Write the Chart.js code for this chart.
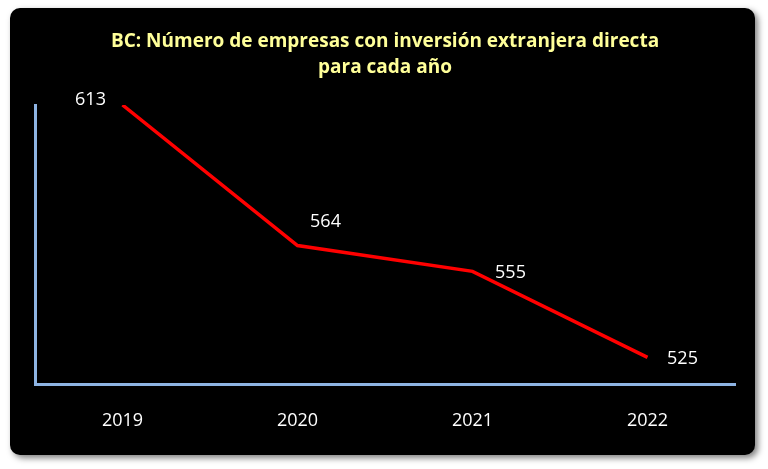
<!DOCTYPE html>
<html>
<head>
<meta charset="utf-8">
<script src="https://cdn.jsdelivr.net/npm/chart.js@4"></script>
<style>
  html, body { margin: 0; padding: 0; background: #fff; }
  #wrap { width: 768px; height: 469px; }
</style>
</head>
<body>
<div id="wrap"><canvas id="chart"></canvas></div>
<script>
const years = ["2019", "2020", "2021", "2022"];
const empresas = [613, 564, 555, 525];
const titleLines = ["BC: Número de empresas con inversión extranjera directa", "para cada año"];
// label offsets relative to each point (dx, dy)
const labelOffsets = [[-32, -5], [28, -24], [38, 1], [35, 1]];

const backgroundPlugin = {
  id: "bg",
  beforeDraw(chart) {
    const ctx = chart.ctx;
    ctx.save();
    ctx.fillStyle = "#fff";
    ctx.fillRect(0, 0, chart.width, chart.height);
    ctx.shadowColor = "rgba(0,0,0,0.5)";
    ctx.shadowBlur = 6;
    ctx.shadowOffsetX = 3;
    ctx.shadowOffsetY = 3;
    ctx.fillStyle = "#000";
    ctx.beginPath();
    ctx.roundRect(10, 8, 745, 447, 10);
    ctx.fill();
    ctx.restore();

    ctx.save();
    ctx.fillStyle = "#ffff99";
    ctx.font = "bold 19px 'Open Sans', sans-serif";
    ctx.textAlign = "center";
    ctx.textBaseline = "middle";
    ctx.fillText(titleLines[0], 385, 42);
    ctx.fillText(titleLines[1], 385, 68);
    ctx.restore();
  },
  afterDatasetsDraw(chart) {
    const ctx = chart.ctx;
    const meta = chart.getDatasetMeta(0);
    ctx.save();
    ctx.fillStyle = "#fff";
    ctx.font = "18px 'Open Sans', sans-serif";
    ctx.textAlign = "center";
    ctx.textBaseline = "middle";
    meta.data.forEach((pt, i) => {
      ctx.fillText(String(empresas[i]), pt.x + labelOffsets[i][0], pt.y + labelOffsets[i][1]);
    });
    ctx.restore();
  }
};

new Chart(document.getElementById("chart"), {
  type: "line",
  data: {
    labels: years,
    datasets: [{
      data: empresas,
      borderColor: "#ff0000",
      borderWidth: 3.5,
      pointRadius: 0,
      tension: 0
    }]
  },
  options: {
    responsive: true,
    maintainAspectRatio: false,
    animation: false,
    layout: { padding: { left: 27, right: 33, top: 105, bottom: 19 } },
    plugins: { legend: { display: false }, tooltip: { enabled: false } },
    scales: {
      x: {
        offset: true,
        grid: { display: false },
        border: { color: "#8eb4e3", width: 3 },
        ticks: { color: "#fff", font: { size: 18, family: "'Open Sans', sans-serif" }, padding: 18 }
      },
      y: {
        min: 515.6,
        max: 613,
        grid: { display: false },
        border: { color: "#8eb4e3", width: 3 },
        ticks: { display: false }
      }
    }
  },
  plugins: [backgroundPlugin]
});
</script>
</body>
</html>
